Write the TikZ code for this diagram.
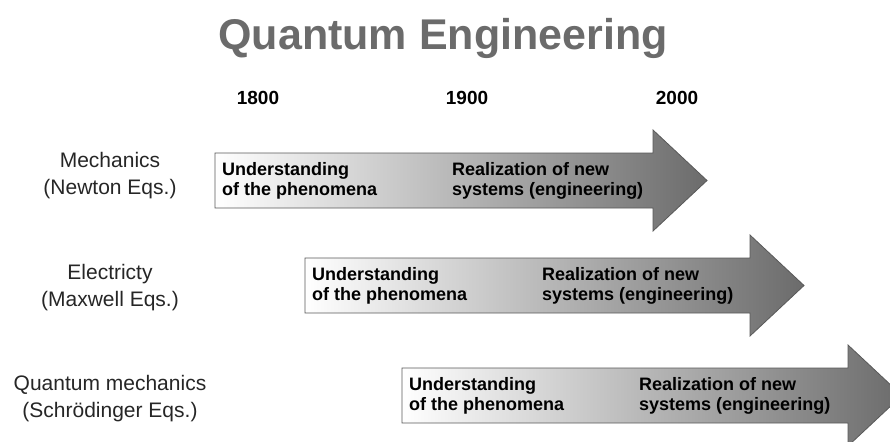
\documentclass[tikz,border=0pt]{standalone}
\usepackage{fontspec}
\setmainfont{Liberation Sans}

\begin{document}
\begin{tikzpicture}[x=1pt, y=-1pt,
    arrowbody/.style = {left color=white, right color=black!58, draw=black!65, line width=0.8pt},
    phase/.style = {anchor=west, align=left, inner sep=0pt, font=\bfseries\fontsize{18}{19.5}\selectfont},
    label/.style = {align=center, inner sep=0pt, text=black!85, font=\fontsize{21}{27}\selectfont},
    year/.style = {anchor=base, font=\bfseries\fontsize{19}{22}\selectfont},
    title/.style = {anchor=base, text=black!58, font=\bfseries\fontsize{43}{48}\selectfont}
]
    \useasboundingbox (0,0) rectangle (890,441);
    \clip (0,0) rectangle (890,441);

    % Title and time axis
    \node [title] (title) at (443,50) {Quantum Engineering};
    \node [year] (y1800) at (258,105) {1800};
    \node [year] (y1900) at (467,105) {1900};
    \node [year] (y2000) at (677,105) {2000};

    % Arrows (left end, body 55 high, head 100 high)
    \shade [arrowbody] (215,153) -- ++(438,0) -- ++(0,-23) -- ++(54,50.5) -- ++(-54,50.5) -- ++(0,-23) -- ++(-438,0) -- cycle;
    \shade [arrowbody] (305,258) -- ++(445,0) -- ++(0,-23) -- ++(54,50.5) -- ++(-54,50.5) -- ++(0,-23) -- ++(-445,0) -- cycle;
    \shade [arrowbody] (402,368) -- ++(446,0) -- ++(0,-23) -- ++(54,50.5) -- ++(-54,50.5) -- ++(0,-23) -- ++(-446,0) -- cycle;

    % Phases inside the arrows
    \node [phase] (und1) at (222,181) {Understanding\\of the phenomena};
    \node [phase] (rea1) at (452,181) {Realization of new\\systems (engineering)};
    \node [phase] (und2) at (312,286) {Understanding\\of the phenomena};
    \node [phase] (rea2) at (542,286) {Realization of new\\systems (engineering)};
    \node [phase] (und3) at (409,396) {Understanding\\of the phenomena};
    \node [phase] (rea3) at (639,396) {Realization of new\\systems (engineering)};

    % Theories on the left
    \node [label] (mech) at (110,176) {Mechanics\\(Newton Eqs.)};
    \node [label] (elec) at (110,288) {Electricty\\(Maxwell Eqs.)};
    \node [label] (quant) at (110,399) {Quantum mechanics\\(Schrödinger Eqs.)};

\end{tikzpicture}
\end{document}
